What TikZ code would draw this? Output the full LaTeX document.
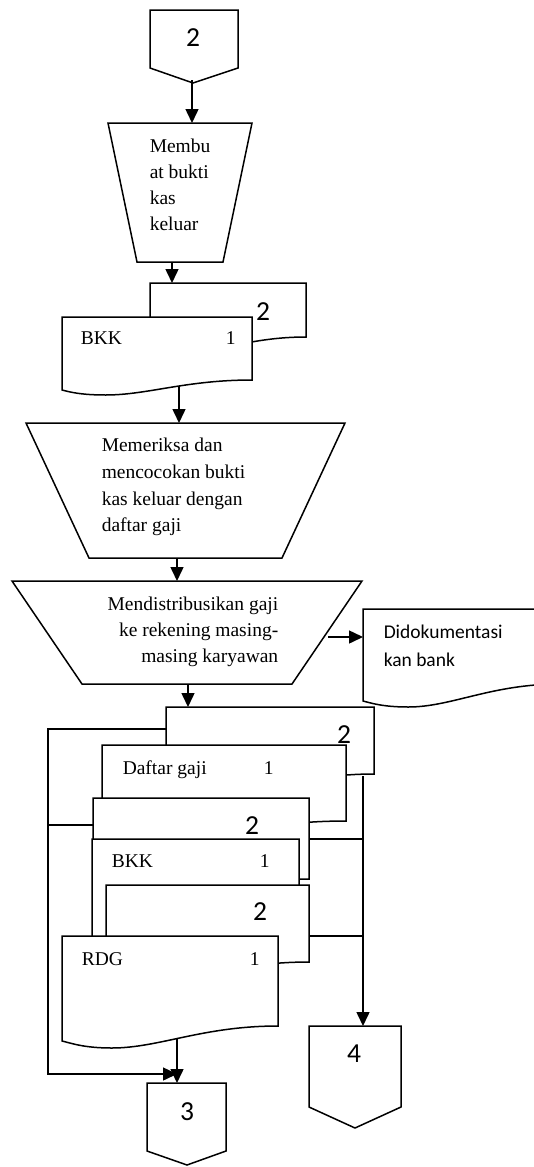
\documentclass[tikz,border=0pt]{standalone}
\usepackage{fontspec}
\setmainfont{Liberation Serif}
\newfontfamily\calfont{Carlito}
\usetikzlibrary{arrows.meta}
% l t r yr yl ymin
\newcommand\mydoc[6]{%
 \draw[shp] (#1,#2) -- (#3,#2) -- (#3,#4)
   .. controls ({#3-0.35*(#3-#1)},#4) and ({#1+0.45*(#3-#1)},#6) .. ({#1+0.23*(#3-#1)},#6)
   .. controls ({#1+0.1*(#3-#1)},#6) and ({#1+0.04*(#3-#1)},{#5+2}) .. (#1,#5) -- cycle;}
\begin{document}
\begin{tikzpicture}[x=1pt,y=-1pt, line width=1.5pt, line join=miter,
  shp/.style={draw, fill=white},
  arr/.style={-{Triangle[length=14pt,width=13pt]}},
  ser/.style={font=\fontsize{19.5}{26.5}\selectfont, inner sep=0pt},
  num/.style={font=\calfont\fontsize{27.5}{30}\selectfont, inner sep=0pt},
  sml/.style={font=\calfont\fontsize{19.5}{27}\selectfont, inner sep=0pt}]
\useasboundingbox (0,0) rectangle (534,1167);

% top off-page connector
\draw[shp] (150,10) -- (238,10) -- (238,68) -- (193,83) -- (150,68) -- cycle;
\node[num] (c2) at (193,37.5) {2};
\coordinate (c2b) at (192,80);

% trapezoid 1
\draw[shp] (108,123) -- (252,123) -- (223,262) -- (137,262) -- cycle;
\coordinate (t1t) at (192,123);
\coordinate (t1b) at (172,262);
\node[ser, anchor=base west] (t1) at (149,152) {\parbox[t]{3cm}{\raggedright\fontsize{19.5}{26.3}\selectfont Membu\\at bukti\\kas\\keluar}};

% BKK documents
\mydoc{150}{283}{306}{337}{347}{352}
\coordinate (d1t) at (172,283);
\node[num] (d1n) at (263,312) {2};
\mydoc{62}{317}{252}{380}{390}{395}
\coordinate (d0b) at (179,386);
\node[ser, anchor=base west] (d0a) at (80,344) {BKK};
\node[ser, anchor=base west] (d0b1) at (225,344) {1};

% trapezoid 2
\draw[shp] (26,423) -- (345,423) -- (282,558) -- (89,558) -- cycle;
\coordinate (t2t) at (179,423);
\coordinate (t2b) at (177,558);
\node[ser, anchor=base west] (t2) at (101,451.7) {\parbox[t]{6cm}{\raggedright\fontsize{19.5}{26.7}\selectfont Memeriksa dan\\mencocokan bukti\\kas keluar dengan\\daftar gaji}};

% trapezoid 3
\draw[shp] (12,581) -- (362,581) -- (292,684) -- (82,684) -- cycle;
\coordinate (t3t) at (177,581);
\coordinate (t3b) at (188,684);
\coordinate (t3r) at (328,637);
\node[ser, anchor=base east] (t3) at (279,610) {\parbox[t]{7cm}{\raggedleft\fontsize{19.5}{26.4}\selectfont Mendistribusikan gaji\\ke rekening masing-\\masing karyawan}};

% Didokumentasi bank document
\begin{scope}
\clip (0,0) rectangle (534,1167);
\mydoc{363}{609}{560}{684}{701}{707}
\end{scope}
\coordinate (dbl) at (363,637);
\node[sml, anchor=base west] (db) at (383,638.7) {\parbox[t]{4cm}{\raggedright\fontsize{19.5}{27.3}\selectfont Didokumentasi\\kan bank}};

% stack of documents
\mydoc{166}{707}{374}{774}{790}{795}
\node[num] (an) at (344,735) {2};
\mydoc{102}{745}{346}{821}{835}{840}
\node[ser, anchor=base west] (bt) at (122,774) {Daftar gaji};
\node[ser, anchor=base west] (bn) at (263,774) {1};
\mydoc{93}{798}{309}{879}{893}{898}
\node[num] (cn) at (252,826) {2};
\mydoc{92}{839}{299}{950}{960}{965}
\node[ser, anchor=base west] (dt) at (111,867.7) {BKK};
\node[ser, anchor=base west] (dn) at (259,867.7) {1};
\mydoc{106}{885}{309}{962}{975}{980}
\node[num] (en) at (260,912) {2};
\mydoc{62}{936}{278}{1026}{1041}{1048}
\node[ser, anchor=base west] (ft) at (81,965) {RDG};
\node[ser, anchor=base west] (fn) at (249,965) {1};
\coordinate (dAt) at (188,707);
\coordinate (dAl) at (166,729);
\coordinate (dAb) at (363,776);
\coordinate (dCl) at (93,825);
\coordinate (dCr) at (309,839);
\coordinate (dEr) at (309,936);
\coordinate (dFb) at (177,1038);
\coordinate (L1) at (48,729);
\coordinate (L2) at (48,1074);
\coordinate (L3) at (48,825);
\coordinate (R1) at (363,839);
\coordinate (R2) at (363,936);
\coordinate (k3a) at (177,1074);

% connectors 3 and 4
\draw[shp] (147,1083) -- (226,1083) -- (226,1151) -- (187,1165) -- (147,1151) -- cycle;
\node[num] (c3) at (187,1112) {3};
\coordinate (c3t) at (177,1083);
\draw[shp] (309,1026) -- (401,1026) -- (401,1107) -- (355,1128) -- (309,1107) -- cycle;
\node[num] (c4) at (354,1054) {4};
\coordinate (c4t) at (363,1026);

% arrows
\draw[arr] (c2b) -- (t1t);
\draw[arr] (t1b) -- (d1t);
\draw[arr] (d0b) -- (t2t);
\draw[arr] (t2b) -- (t3t);
\draw[arr] (t3r) -- (dbl);
\draw[arr] (t3b) -- (dAt);
\draw[arr] (dAl) -- (L1) -- (L2) -- (k3a);
\draw (dCl) -- (L3);
\draw[arr] (dAb) -- (c4t);
\draw (dCr) -- (R1);
\draw (dEr) -- (R2);
\draw[arr] (dFb) -- (c3t);
\end{tikzpicture}
\end{document}
